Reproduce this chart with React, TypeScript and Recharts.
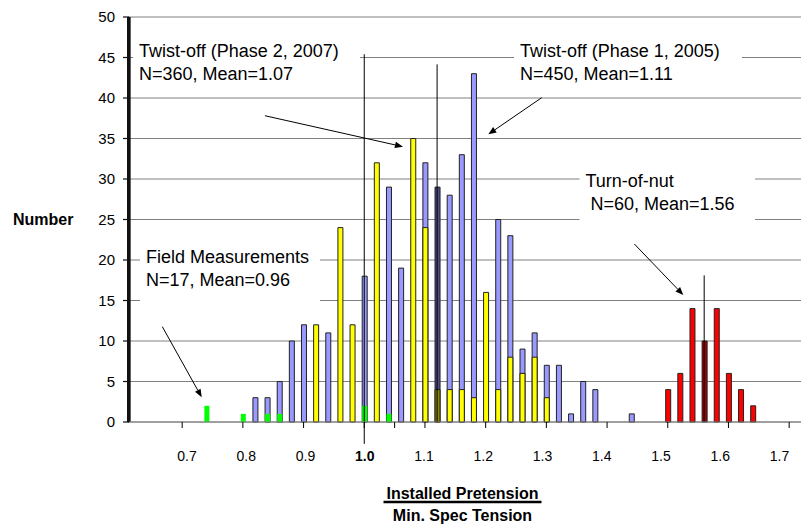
import React from 'react';
import {
  ComposedChart,
  Bar,
  XAxis,
  YAxis,
  CartesianGrid,
  ReferenceLine,
  ReferenceArea,
  Label,
  Cell,
} from 'recharts';

// Bin centres (Installed Pretension / Min. Spec Tension)
const bins = [
  0.74, 0.76, 0.78, 0.8, 0.82, 0.84, 0.86, 0.88, 0.9, 0.92,
  0.94, 0.96, 0.98, 1.0, 1.02, 1.04, 1.06, 1.08, 1.1, 1.12,
  1.14, 1.16, 1.18, 1.2, 1.22, 1.24, 1.26, 1.28, 1.3, 1.32,
  1.34, 1.36, 1.38, 1.4, 1.42, 1.44, 1.46, 1.48, 1.5, 1.52,
  1.54, 1.56, 1.58, 1.6, 1.62, 1.64,
];

// Twist-off (Phase 1, 2005) - blue
const phase1 = [
  null, null, null, null, 3, 3, 5, 10, 12, null,
  11, null, null, 18, null, 29, 19, null, 32, 29,
  28, 33, 43, null, 25, 23, 9, 11, 7, 7,
  1, 5, 4, null, null, 1, null, null, null, null,
  null, null, null, null, null, null,
];

// Twist-off (Phase 2, 2007) - yellow
const phase2 = [
  null, null, null, null, null, null, null, null, null, 12,
  null, 24, 12, null, 32, null, null, 35, 24, 4,
  4, 4, 3, 16, 4, 8, 6, 8, 3, null,
  null, null, null, null, null, null, null, null, null, null,
  null, null, null, null, null, null,
];

// Field Measurements - green
const field = [
  2, null, null, 1, null, 1, 1, null, null, null,
  null, null, null, 2, null, 1, null, null, null, null,
  null, null, null, null, null, null, null, null, null, null,
  null, null, null, null, null, null, null, null, null, null,
  null, null, null, null, null, null,
];

// Turn-of-nut - red
const turnOfNut = [
  null, null, null, null, null, null, null, null, null, null,
  null, null, null, null, null, null, null, null, null, null,
  null, null, null, null, null, null, null, null, null, null,
  null, null, null, null, null, null, null, null, 4, 6,
  14, 10, 14, 6, 4, 2,
];

const yTicks = [0, 5, 10, 15, 20, 25, 30, 35, 40, 45, 50];
const xLabelTicks = [0.7, 0.8, 0.9, 1.0, 1.1, 1.2, 1.3, 1.4, 1.5, 1.6, 1.7];
const xTickMarks = [0.7, 0.8, 0.9, 1.0, 1.05, 1.1, 1.2, 1.3, 1.4, 1.5, 1.6, 1.7];

const X_DOMAIN = [0.61077, 1.7195];
const X_LABEL_DOMAIN = [0.60042, 1.73628];
const Y_AXIS_LINE_X = 0.6135;

// Mean / reference lines: [x, top y, bottom y]
const refLines = [
  [1.0, 45.4, -2.7],
  [1.12, 44.15, 0],
  [1.56, 18.1, 0],
];
const shadedBins = [1.12, 1.56];

// Annotations
const annoPhase2 = ['Twist-off (Phase 2, 2007)', 'N=360, Mean=1.07'];
const annoPhase1 = ['Twist-off (Phase 1, 2005)', 'N=450, Mean=1.11'];
const annoField = ['Field Measurements', 'N=17, Mean=0.96'];
const annoTurn = ['Turn-of-nut', ' N=60, Mean=1.56'];

// boxes: [x1, x2, yTop, yBottom]
const boxPhase2 = [0.619, 0.993, 47.81, 41.02];
const boxPhase1 = [1.2467, 1.6223, 47.81, 41.02];
const boxField = [0.6305, 0.9271, 22.38, 14.32];
const boxTurn = [1.3546, 1.6437, 31.81, 23.83];

// arrows: [x1, y1, x2, y2] (head at second point)
const arrows = [
  [0.8365, 37.81, 1.0638, 33.99],
  [1.2923, 40.04, 1.2044, 35.52],
  [1.4449, 21.98, 1.5256, 15.68],
  [0.6673, 11.77, 0.7322, 3.05],
];

const data = bins.map((b, k) => ({
  bin: b,
  phase1: phase1[k],
  phase2: phase2[k],
  field: field[k],
  turn: turnOfNut[k],
}));

const FONT = '"Liberation Sans", Arial, Helvetica, sans-serif';
const AXIS_DARK = '#111111';

const makeBox = (lines: string[]) => (props: any) => {
  const { x, y, width, height } = props;
  return (
    <g>
      <rect x={x} y={y} width={width} height={height} fill="#ffffff" stroke="none" />
      {lines.map((t, k) => (
        <text
          key={k}
          x={x + 6}
          y={y + 22.4 + k * 23.3}
          fontSize={18}
          fill="#000"
          fontFamily={FONT}
          xmlSpace="preserve"
          style={{ whiteSpace: 'pre' }}
        >
          {t}
        </text>
      ))}
    </g>
  );
};

const arrowShape = (props: any) => {
  const { x1, y1, x2, y2 } = props;
  const dx = x2 - x1;
  const dy = y2 - y1;
  const len = Math.sqrt(dx * dx + dy * dy) || 1;
  const ux = dx / len;
  const uy = dy / len;
  const hl = 8;
  const hw = 3.2;
  const bx = x2 - ux * hl;
  const by = y2 - uy * hl;
  const p1 = `${x2},${y2}`;
  const p2 = `${bx - uy * hw},${by + ux * hw}`;
  const p3 = `${bx + uy * hw},${by - ux * hw}`;
  return (
    <g>
      <line x1={x1} y1={y1} x2={bx} y2={by} stroke="#000" strokeWidth={1} />
      <polygon points={`${p1} ${p2} ${p3}`} fill="#000" />
    </g>
  );
};

// vertical axis line drawn as a filled rectangle (robust against thin-stroke rendering)
const axisLineShape = (props: any) => {
  const { x1, y1, y2 } = props;
  const top = Math.min(y1, y2);
  const h = Math.abs(y2 - y1);
  return <rect x={x1 - 1} y={top} width={2} height={h} fill={AXIS_DARK} />;
};

const XLabelTick = (props: any) => {
  const { x, y, payload } = props;
  const bold = Math.abs(payload.value - 1) < 1e-9;
  return (
    <text
      x={x}
      y={y}
      textAnchor="middle"
      fontSize={14}
      fontWeight={bold ? 'bold' : 'normal'}
      fill="#000"
      fontFamily={FONT}
    >
      {Number(payload.value).toFixed(1)}
    </text>
  );
};

const XTickMark = (props: any) => {
  const { x, y } = props;
  return <line x1={x} x2={x} y1={y - 6} y2={y} stroke="#000" strokeWidth={1} />;
};

const YTick = (props: any) => {
  const { x, y, payload } = props;
  return (
    <g>
      <rect x={x + 8} y={y - 0.6} width={6} height={1.2} fill={AXIS_DARK} />
      <text x={x} y={y + 5.3} textAnchor="end" fontSize={15} fill="#000" fontFamily={FONT}>
        {payload.value}
      </text>
    </g>
  );
};

const XTitle = (props: any) => {
  const vb = props.viewBox || { x: 128, y: 423, width: 673 };
  const cx = vb.x + vb.width / 2 - 2;
  const top = 422;
  return (
    <g>
      <text x={cx} y={top + 77} textAnchor="middle" fontSize={16} fontWeight="bold" fill="#000" fontFamily={FONT}>
        Installed Pretension
      </text>
      <line x1={cx - 79} x2={cx + 79} y1={top + 80} y2={top + 80} stroke="#000" strokeWidth={2.5} />
      <text x={cx} y={top + 99.3} textAnchor="middle" fontSize={16} fontWeight="bold" fill="#000" fontFamily={FONT}>
        Min. Spec Tension
      </text>
    </g>
  );
};

const darker = (bin: number, base: string, dark: string) =>
  shadedBins.some((s) => Math.abs(s - bin) < 1e-9) ? dark : base;

export default function App() {
  return (
    <div style={{ position: 'absolute', left: 0, top: 0, width: 801, height: 525, background: '#fff' }}>
      <ComposedChart
        width={801}
        height={525}
        data={data}
        margin={{ top: 17, right: 0, bottom: 101, left: 0 }}
        barGap={-5}
        style={{ fontFamily: FONT }}
      >
        <CartesianGrid vertical={false} stroke="#808080" strokeWidth={1} />
        <XAxis
          xAxisId={0}
          type="number"
          dataKey="bin"
          domain={X_DOMAIN}
          ticks={xTickMarks}
          interval={0}
          allowDataOverflow
          tick={<XTickMark />}
          tickSize={6}
          tickMargin={0}
          tickLine={false}
          axisLine={{ stroke: '#808080' }}
          height={1}
        />
        <XAxis
          xAxisId="lbl"
          type="number"
          dataKey="bin"
          domain={X_LABEL_DOMAIN}
          ticks={xLabelTicks}
          interval={0}
          allowDataOverflow
          tick={<XLabelTick />}
          tickSize={0}
          tickMargin={37.7}
          tickLine={false}
          axisLine={false}
          height={1}
        >
          <Label content={<XTitle />} />
        </XAxis>
        <YAxis
          type="number"
          domain={[0, 50]}
          ticks={yTicks}
          interval={0}
          width={128}
          tickSize={5}
          tickMargin={8}
          stroke={AXIS_DARK}
          strokeWidth={2}
          axisLine
          tickLine={false}
          tick={<YTick />}
        >
          <Label
            value="Number"
            position="insideLeft"
            offset={13}
            fill="#000"
            fontSize={16}
            fontWeight="bold"
            fontFamily={FONT}
          />
        </YAxis>

        <ReferenceArea x1={boxPhase2[0]} x2={boxPhase2[1]} y1={boxPhase2[3]} y2={boxPhase2[2]} shape={makeBox(annoPhase2)} ifOverflow="visible" />
        <ReferenceArea x1={boxPhase1[0]} x2={boxPhase1[1]} y1={boxPhase1[3]} y2={boxPhase1[2]} shape={makeBox(annoPhase1)} ifOverflow="visible" />
        <ReferenceArea x1={boxField[0]} x2={boxField[1]} y1={boxField[3]} y2={boxField[2]} shape={makeBox(annoField)} ifOverflow="visible" />
        <ReferenceArea x1={boxTurn[0]} x2={boxTurn[1]} y1={boxTurn[3]} y2={boxTurn[2]} shape={makeBox(annoTurn)} ifOverflow="visible" />

        <Bar dataKey="phase1" fill="#9999FF" stroke="#222" strokeWidth={1} barSize={5} isAnimationActive={false}>
          {data.map((d, k) => (
            <Cell key={k} fill={darker(d.bin, '#9999FF', '#4C4C88')} />
          ))}
        </Bar>
        <Bar dataKey="phase2" fill="#FFFF00" stroke="#222" strokeWidth={1} barSize={5} isAnimationActive={false}>
          {data.map((d, k) => (
            <Cell key={k} fill={darker(d.bin, '#FFFF00', '#8A8A00')} />
          ))}
        </Bar>
        <Bar dataKey="field" fill="#00FF00" stroke="none" barSize={5} isAnimationActive={false} />
        <Bar dataKey="turn" fill="#FF0000" stroke="#222" strokeWidth={1} barSize={5} isAnimationActive={false}>
          {data.map((d, k) => (
            <Cell key={k} fill={darker(d.bin, '#FF0000', '#A00000')} />
          ))}
        </Bar>

        <ReferenceLine x={Y_AXIS_LINE_X} shape={axisLineShape} ifOverflow="visible" />
        {refLines.map((r, k) => (
          <ReferenceLine
            key={`m${k}`}
            segment={[{ x: r[0], y: r[1] }, { x: r[0], y: r[2] }]}
            stroke="#000"
            strokeWidth={1}
            ifOverflow="visible"
          />
        ))}
        {arrows.map((a, k) => (
          <ReferenceLine
            key={`a${k}`}
            segment={[{ x: a[0], y: a[1] }, { x: a[2], y: a[3] }]}
            shape={arrowShape}
            ifOverflow="visible"
          />
        ))}
      </ComposedChart>
    </div>
  );
}
